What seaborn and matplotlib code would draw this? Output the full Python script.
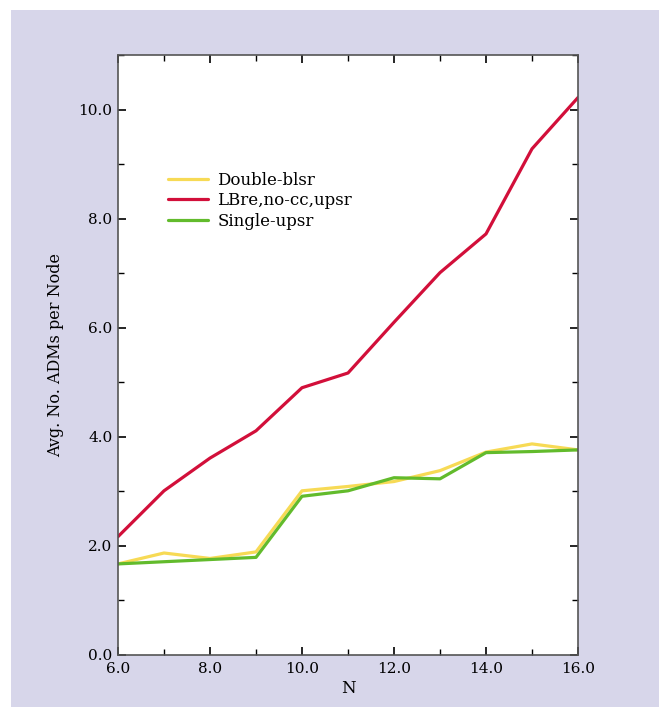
import pandas as pd
import matplotlib.pyplot as plt
import matplotlib.patches as mpatches
from matplotlib.ticker import MultipleLocator, FormatStrFormatter
import seaborn as sns

# values
n_values = [6, 7, 8, 9, 10, 11, 12, 13, 14, 15, 16]
double_blsr = [1.67, 1.87, 1.77, 1.89, 3.01, 3.09, 3.18, 3.38, 3.72, 3.87, 3.76]
lbre_upsr = [2.17, 3.01, 3.61, 4.11, 4.90, 5.17, 6.10, 7.01, 7.72, 9.28, 10.22]
single_upsr = [1.67, 1.71, 1.75, 1.79, 2.91, 3.01, 3.25, 3.23, 3.71, 3.73, 3.76]

series_names = ["Double-blsr", "LBre,no-cc,upsr", "Single-upsr"]
series_colors = ["#F7DA55", "#D20F3A", "#62BB2C"]

df = pd.DataFrame({
    "N": n_values * 3,
    "value": double_blsr + lbre_upsr + single_upsr,
    "series": [series_names[0]] * 11 + [series_names[1]] * 11 + [series_names[2]] * 11,
})

sns.set_style("ticks")
plt.rcParams["font.family"] = ["DejaVu Serif"]
plt.rcParams["text.color"] = "black"
plt.rcParams["axes.labelcolor"] = "black"

fig = plt.figure(figsize=(6.59, 7.07), dpi=100, facecolor="white")
# lavender panel behind the plot
fig.patches.append(mpatches.Rectangle((11 / 659, 0), 1, 1 - 10 / 707,
                                      transform=fig.transFigure,
                                      facecolor="#D7D6EA", edgecolor="none", zorder=-10))

ax = fig.add_axes([118 / 659, 52 / 707, 460 / 659, 600 / 707])
ax.set_facecolor("white")

sns.lineplot(data=df, x="N", y="value", hue="series", hue_order=series_names,
             palette=series_colors, linewidth=2.3, ax=ax)

ax.set_xlim(6, 16)
ax.set_ylim(0, 11)
ax.xaxis.set_major_locator(MultipleLocator(2))
ax.xaxis.set_minor_locator(MultipleLocator(1))
ax.yaxis.set_major_locator(MultipleLocator(2))
ax.yaxis.set_minor_locator(MultipleLocator(1))
ax.xaxis.set_major_formatter(FormatStrFormatter("%.1f"))
ax.yaxis.set_major_formatter(FormatStrFormatter("%.1f"))
ax.tick_params(which="both", direction="in", top=True, right=True,
               labelsize=11, color="black", labelcolor="black")
ax.tick_params(axis="x", pad=5)
ax.tick_params(axis="y", pad=4)
ax.tick_params(which="major", length=6, width=1.2)
ax.tick_params(which="minor", length=4, width=1.0)
for side in ["left", "right", "top", "bottom"]:
    ax.spines[side].set_color("#555555")
    ax.spines[side].set_linewidth(1.2)

ax.set_xlabel("N", fontsize=12, labelpad=3)
ax.set_ylabel("Avg. No. ADMs per Node", fontsize=11.5, labelpad=10)

ax.legend(title=None, frameon=False, fontsize=12, loc="upper left",
          bbox_to_anchor=(0.075, 0.83), handlelength=2.4, handletextpad=0.6,
          labelspacing=0.2)

plt.savefig("out.png", dpi=100, facecolor=fig.get_facecolor())
